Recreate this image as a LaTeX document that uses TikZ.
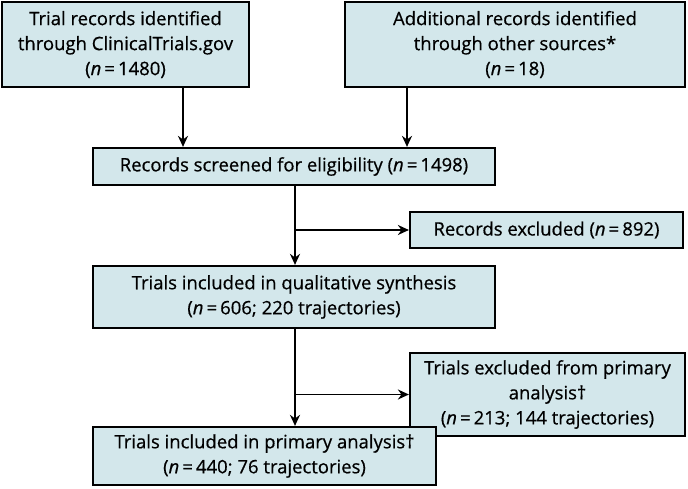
\documentclass[tikz,border=0pt]{standalone}
\usepackage{fontspec}
\usetikzlibrary{arrows.meta}
\setmainfont{Open Sans}[FakeBold=0.6,AutoFakeBold=0.6]
\begin{document}
\begin{tikzpicture}[x=1pt,y=-1pt,
  box/.style={draw=black,line width=2.2pt,fill=boxc,align=center,inner sep=0pt,font=\fontsize{18.5}{25}\selectfont\bfseries},
  arr/.style={line width=1.8pt,-{Stealth[length=11pt,width=10pt]}}]
\definecolor{boxc}{HTML}{D3E7EB}
\useasboundingbox (0,0) rectangle (688,489);
\node[box,minimum width=247,minimum height=85] (a) at (125.5,44.5) {Trial records identified\\through ClinicalTrials.gov\\(\textit{n}\,=\,1480)};
\node[box,minimum width=340,minimum height=85] (b) at (515,44.5) {Additional records identified\\through other sources*\\(\textit{n}\,=\,18)};
\node[box,minimum width=402,minimum height=37] (c) at (294,166.5) {Records screened for eligibility (\textit{n}\,=\,1498)};
\node[box,minimum width=273,minimum height=36] (d) at (546.5,230) {Records excluded (\textit{n}\,=\,892)};
\node[box,minimum width=402,minimum height=62] (e) at (294,297) {Trials included in qualitative synthesis\\(\textit{n}\,=\,606; 220 trajectories)};
\node[box,minimum width=275,minimum height=83] (f) at (547.5,394.5) {Trials excluded from primary\\analysis†\\(\textit{n}\,=\,213; 144 trajectories)};
\node[box,minimum width=343,minimum height=58] (g) at (264.5,456) {Trials included in primary analysis†\\(\textit{n}\,=\,440; 76 trajectories)};
\draw[arr] (a.south -| 183,0) -- (c.north -| 183,0);
\draw[arr] (b.south -| 407,0) -- (c.north -| 407,0);
\draw[arr] (c.south -| 295,0) -- (e.north -| 295,0);
\coordinate (j1) at (295,230);
\draw[arr] (j1) -- (d.west);
\draw[arr] (e.south -| 295,0) -- (g.north -| 295,0);
\coordinate (j2) at (295,394.5);
\draw[arr] (j2) -- (f.west);
\end{tikzpicture}
\end{document}
